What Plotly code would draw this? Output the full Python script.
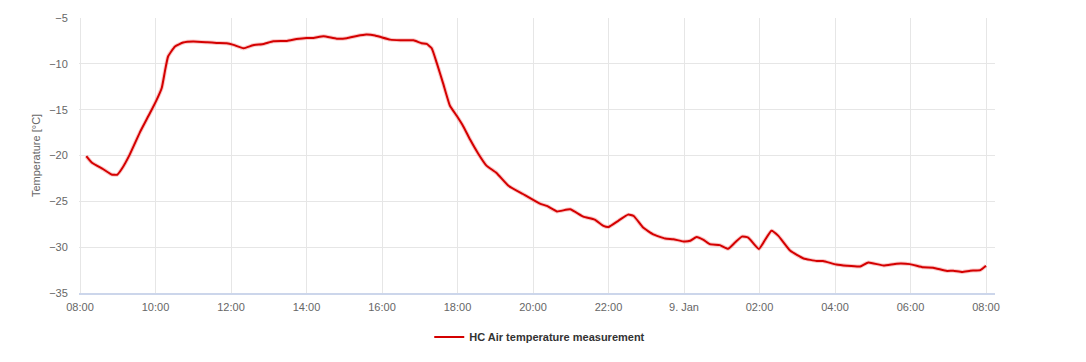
import plotly.graph_objects as go

times = [
    "2024-01-08 08:10", "2024-01-08 08:19", "2024-01-08 08:37", "2024-01-08 08:50", "2024-01-08 08:59",
    "2024-01-08 09:06", "2024-01-08 09:19", "2024-01-08 09:35", "2024-01-08 09:51", "2024-01-08 10:02",
    "2024-01-08 10:10", "2024-01-08 10:15", "2024-01-08 10:20", "2024-01-08 10:31", "2024-01-08 10:44",
    "2024-01-08 11:00", "2024-01-08 11:22", "2024-01-08 11:37", "2024-01-08 11:53", "2024-01-08 12:04",
    "2024-01-08 12:20", "2024-01-08 12:35", "2024-01-08 12:52", "2024-01-08 13:07", "2024-01-08 13:29",
    "2024-01-08 13:44", "2024-01-08 14:00", "2024-01-08 14:11", "2024-01-08 14:27", "2024-01-08 14:48",
    "2024-01-08 15:04", "2024-01-08 15:20", "2024-01-08 15:35", "2024-01-08 15:49", "2024-01-08 15:59",
    "2024-01-08 16:13", "2024-01-08 16:29", "2024-01-08 16:50", "2024-01-08 17:03", "2024-01-08 17:11",
    "2024-01-08 17:19", "2024-01-08 17:27", "2024-01-08 17:37", "2024-01-08 17:48", "2024-01-08 17:59",
    "2024-01-08 18:09", "2024-01-08 18:20", "2024-01-08 18:33", "2024-01-08 18:46", "2024-01-08 19:02",
    "2024-01-08 19:21", "2024-01-08 19:44", "2024-01-08 20:11", "2024-01-08 20:22", "2024-01-08 20:38",
    "2024-01-08 20:59", "2024-01-08 21:20", "2024-01-08 21:38", "2024-01-08 21:52", "2024-01-08 22:00",
    "2024-01-08 22:16", "2024-01-08 22:31", "2024-01-08 22:40", "2024-01-08 22:55", "2024-01-08 23:11",
    "2024-01-08 23:30", "2024-01-08 23:43", "2024-01-08 23:59", "2024-01-09 00:10", "2024-01-09 00:20",
    "2024-01-09 00:31", "2024-01-09 00:41", "2024-01-09 00:57", "2024-01-09 01:10", "2024-01-09 01:21",
    "2024-01-09 01:32", "2024-01-09 01:42", "2024-01-09 01:59", "2024-01-09 02:08", "2024-01-09 02:19",
    "2024-01-09 02:30", "2024-01-09 02:49", "2024-01-09 03:10", "2024-01-09 03:31", "2024-01-09 03:41",
    "2024-01-09 04:02", "2024-01-09 04:19", "2024-01-09 04:40", "2024-01-09 04:53", "2024-01-09 05:17",
    "2024-01-09 05:38", "2024-01-09 05:59", "2024-01-09 06:20", "2024-01-09 06:36", "2024-01-09 06:58",
    "2024-01-09 07:08", "2024-01-09 07:22", "2024-01-09 07:35", "2024-01-09 07:51", "2024-01-09 08:00",
]
temps = [
    -20.07, -20.8, -21.5, -22.07, -22.1,
    -21.5, -19.9, -17.5, -15.4, -13.9,
    -12.6, -10.8, -9.2, -8.1, -7.68,
    -7.57, -7.65, -7.72, -7.75, -7.93,
    -8.3, -7.97, -7.83, -7.54, -7.5,
    -7.3, -7.17, -7.17, -7.0, -7.25,
    -7.2, -6.96, -6.8, -6.9, -7.1,
    -7.36, -7.43, -7.43, -7.75, -7.83,
    -8.3, -9.9, -12.1, -14.57, -15.7,
    -16.8, -18.26, -19.8, -21.1, -21.9,
    -23.3, -24.2, -25.25, -25.5, -26.1,
    -25.87, -26.67, -27.0, -27.68, -27.8,
    -27.1, -26.45, -26.6, -27.86, -28.6,
    -29.06, -29.13, -29.38, -29.3, -28.88,
    -29.2, -29.67, -29.78, -30.18, -29.5,
    -28.85, -28.95, -30.2, -29.3, -28.2,
    -28.77, -30.4, -31.23, -31.5, -31.5,
    -31.9, -32.03, -32.1, -31.67, -32.0,
    -31.8, -31.85, -32.2, -32.24, -32.6,
    -32.57, -32.7, -32.57, -32.5, -32.03,
]

series_name = "HC Air temperature measurement"
x_tick_vals = [
    "2024-01-08 08:00", "2024-01-08 10:00", "2024-01-08 12:00", "2024-01-08 14:00",
    "2024-01-08 16:00", "2024-01-08 18:00", "2024-01-08 20:00", "2024-01-08 22:00",
    "2024-01-09 00:00", "2024-01-09 02:00", "2024-01-09 04:00", "2024-01-09 06:00",
    "2024-01-09 08:00",
]
x_tick_text = ["08:00", "10:00", "12:00", "14:00", "16:00", "18:00", "20:00", "22:00",
               "9. Jan", "02:00", "04:00", "06:00", "08:00"]
y_ticks = [-35, -30, -25, -20, -15, -10, -5]

FONT = "Liberation Sans, Arial, sans-serif"

fig = go.Figure()
fig.add_trace(go.Scatter(
    x=times, y=temps, mode="lines", name=series_name,
    line=dict(color="rgba(240,100,100,0.35)", width=4, shape="spline", smoothing=0.4),
    showlegend=False, hoverinfo="skip",
))
fig.add_trace(go.Scatter(
    x=times, y=temps, mode="lines", name=series_name,
    line=dict(color="#d40000", width=2, shape="spline", smoothing=0.4),
))

fig.update_layout(
    width=1086, height=362,
    margin=dict(l=79, r=91, t=18, b=68),
    paper_bgcolor="white", plot_bgcolor="white",
    font=dict(family=FONT, color="#666666", size=11),
    showlegend=True,
    legend=dict(
        orientation="h", x=0.503, xanchor="center", y=-0.156, yanchor="middle",
        font=dict(family=FONT, size=11, color="#333333", weight="bold"),
        itemwidth=30,
    ),
    xaxis=dict(
        type="date",
        range=["2024-01-08 07:58:24", "2024-01-09 08:14:18"],
        tickmode="array", tickvals=x_tick_vals, ticktext=x_tick_text,
        showgrid=True, gridcolor="#e6e6e6", gridwidth=1,
        showline=True, linecolor="#ccd6eb", linewidth=2,
        ticks="outside", ticklen=3, tickcolor="rgba(0,0,0,0)",
        tickfont=dict(family=FONT, size=11, color="#666666"),
        zeroline=False,
    ),
    yaxis=dict(
        range=[-35, -5],
        tickmode="array", tickvals=y_ticks,
        showgrid=True, gridcolor="#e6e6e6", gridwidth=1,
        showline=False, zeroline=False,
        ticks="outside", ticklen=8, tickcolor="rgba(0,0,0,0)",
        tickfont=dict(family=FONT, size=11, color="#666666"),
        title=dict(text="Temperature [°C]", font=dict(family=FONT, size=11, color="#666666"), standoff=6),
    ),
)

fig.write_html("out.html", config={"displayModeBar": False},
               post_script="document.body.style.margin='0';")
